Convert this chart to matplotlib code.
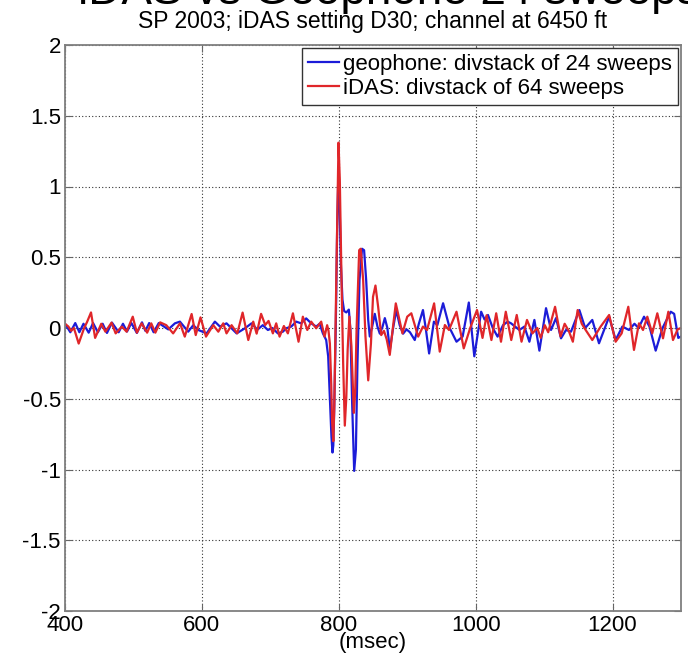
import matplotlib
matplotlib.use('Agg')
import matplotlib.pyplot as plt

plt.rcParams['font.family'] = ['Liberation Sans', 'DejaVu Sans']
plt.rcParams['axes.unicode_minus'] = False

# ---- data ----
geo_t = [400, 407.8, 415, 421, 427, 434.6, 441, 448, 455, 461.3, 468.6, 478.4, 484.7, 490.6, 497, 505,
         512.5, 517.4, 523, 529.5, 537, 550.9, 560.6, 567.9, 580, 587.4, 594.7, 606.9, 619, 626.4, 636,
         650.7, 662.9, 672.6, 681, 689, 696.4, 703, 711, 718.3, 723.2, 730.5, 737.8, 745, 752.4, 759.7,
         767, 772, 776.8, 781.6, 784.5, 787, 789.3, 790.8, 792, 793.2, 795.7, 797.6, 799.6, 801, 803,
         805.4, 807.8, 811, 814.7, 817, 819.5, 822.5, 825, 827.3, 830.3, 834, 837, 840, 843, 845.3,
         848.8, 852.6, 856.5, 860, 864, 867.3, 871, 874.6, 879.4, 884, 889, 894, 899, 904, 911, 917,
         923, 927, 932, 939, 944, 952.4, 962, 972, 981, 990, 998, 1008, 1013, 1018, 1025, 1032, 1040,
         1046.8, 1051.7, 1063.9, 1071.2, 1078.5, 1085.8, 1093.1, 1102.8, 1110.1, 1117.4, 1124.7, 1132,
         1139.3, 1151.5, 1160, 1170.4, 1180.2, 1195, 1204.5, 1214.3, 1224, 1232, 1238, 1246, 1254, 1263,
         1273, 1285, 1290, 1296, 1300]
geo_v = [0.03, -0.03, 0.035, -0.03, 0.03, -0.033, 0.035, -0.03, 0.03, -0.035, 0.038, -0.03, 0.03, -0.025,
         0.035, -0.035, 0.04, -0.02, 0.035, -0.03, 0.035, -0.01, 0.033, 0.045, -0.026, 0.02, -0.014, -0.038,
         0.045, 0.01, 0.033, -0.038, -0.002, 0.033, -0.012, 0.02, -0.014, 0.0, -0.038, -0.026, -0.002, 0.01,
         0.045, 0.033, 0.068, 0.033, 0.01, 0.03, -0.038, -0.085, -0.2, -0.49, -0.77, -0.88, -0.83, -0.6,
         0.03, 0.69, 1.14, 0.93, 0.46, 0.2, 0.12, 0.11, 0.13, -0.01, -0.53, -1.01, -0.86, -0.25, 0.34,
         0.56, 0.55, 0.34, 0.056, -0.06, 0.01, 0.1, 0.01, -0.04, 0.01, 0.07, 0.0, -0.155, 0.0, 0.127,
         0.02, -0.04, -0.01, -0.03, -0.085, 0.03, 0.127, 0.0, -0.18, 0.045, 0.02, 0.175, 0.0, -0.097,
         -0.06, 0.18, -0.2, 0.115, 0.06, 0.092, 0.0, -0.061, 0.02, 0.045, 0.033, -0.014, 0.01, -0.097,
         0.057, -0.16, 0.14, -0.014, 0.07, -0.073, -0.014, -0.026, 0.127, 0.0, 0.057, -0.108, 0.08,
         -0.085, 0.01, -0.014, 0.03, 0.0, 0.08, 0.01, -0.16, 0.0, 0.115, 0.1, -0.07, -0.06]

das_t = [400, 405, 409, 413, 420, 428, 432, 438, 444, 453, 459, 468, 474, 483, 490, 499, 505, 512, 520,
         526, 532, 539, 548, 558, 568, 575, 585, 591, 598, 606, 616.6, 624, 631.2, 636, 643.4, 651.7,
         659.5, 667.8, 675, 680, 686.5, 692.5, 697.4, 703.7, 708.6, 713.5, 719.8, 725.6, 733, 741.2,
         747.5, 754, 759.7, 767, 774.3, 779.2, 783, 785, 787, 789, 790.3, 792, 793.5, 795.2, 797.6,
         799.6, 801.5, 804, 806.4, 808.8, 811, 813, 815.5, 818.5, 822, 824, 826, 829.8, 832, 835.6, 839,
         843, 847, 850, 853.6, 857.5, 862, 866, 870, 874.5, 879, 883.3, 889, 893, 900, 906, 916, 923,
         929, 939.3, 947.5, 955, 961, 972, 982.6, 992, 1002, 1010, 1016, 1023, 1030, 1037, 1044, 1052,
         1060, 1067, 1075, 1083, 1090, 1095, 1101, 1106, 1116, 1124, 1130, 1136, 1142, 1149, 1155,
         1160.7, 1170.4, 1182.6, 1195, 1204.5, 1213.3, 1223, 1231.3, 1238.6, 1244.5, 1250.8, 1258,
         1265.4, 1273.7, 1281.5, 1288.3, 1295, 1300]
das_v = [0.03, 0.01, -0.02, 0.0, -0.11, 0.0, 0.04, 0.11, -0.07, 0.03, -0.026, 0.038, -0.038, 0.01, -0.026,
         0.08, -0.033, 0.033, -0.033, 0.033, -0.033, 0.04, 0.02, -0.038, 0.033, -0.061, 0.099, -0.05,
         0.075, -0.061, 0.02, -0.026, 0.033, -0.038, 0.02, -0.038, 0.109, -0.085, 0.045, -0.04, 0.1,
         0.021, 0.05, -0.038, 0.033, -0.061, 0.014, -0.038, 0.104, -0.097, 0.08, -0.014, 0.045, -0.002,
         0.045, -0.061, 0.02, -0.02, -0.11, -0.4, -0.67, -0.8, -0.55, -0.01, 0.69, 1.31, 1.05, 0.34,
         -0.25, -0.69, -0.49, -0.15, 0.08, -0.13, -0.6, -0.45, -0.01, 0.55, 0.56, 0.34, -0.06, -0.37,
         -0.11, 0.22, 0.30, 0.15, -0.05, -0.02, -0.08, -0.19, 0.0, 0.174, 0.05, -0.038, 0.08, 0.104,
         -0.061, 0.01, -0.014, 0.174, -0.167, 0.021, -0.014, 0.115, -0.144, 0.0, 0.127, -0.07, 0.09,
         -0.085, 0.104, -0.097, 0.115, -0.085, 0.092, -0.097, 0.057, -0.038, 0.0, -0.07, 0.02, -0.03,
         0.15, -0.06, 0.03, -0.02, -0.097, 0.127, 0.03, -0.014, -0.085, 0.01, 0.092, -0.097, -0.038,
         0.15, -0.155, 0.033, -0.014, 0.08, -0.038, 0.104, -0.073, 0.115, -0.085, -0.01, 0.0]

x_ticks = [400, 600, 800, 1000, 1200]
x_tick_labels = ['400', '600', '800', '1000', '1200']
y_ticks = [-2, -1.5, -1, -0.5, 0, 0.5, 1, 1.5, 2]
y_tick_labels = ['-2', '-1.5', '-1', '-0.5', '0', '0.5', '1', '1.5', '2']

geo_label = 'geophone: divstack of 24 sweeps'
das_label = 'iDAS: divstack of 64 sweeps'
title = 'SP 2003; iDAS setting D30; channel at 6450 ft'
top_title = 'iDAS vs Geophone 24 sweeps'

W, H = 688, 664
fig = plt.figure(figsize=(W / 100, H / 100), dpi=100)
ax = fig.add_axes([65 / W, 1 - 611 / H, (681 - 65) / W, (611 - 45) / H])

ax.plot(geo_t, geo_v, color='#1c1cd8', lw=1.6, label=geo_label,
        solid_joinstyle='round')
ax.plot(das_t, das_v, color='#e0262a', lw=1.6, label=das_label,
        solid_joinstyle='round')

ax.set_xlim(400, 1300)
ax.set_ylim(-2, 2)
ax.set_xticks(x_ticks)
ax.set_xticklabels(x_tick_labels)
ax.set_yticks(y_ticks)
ax.set_yticklabels(y_tick_labels)
ax.tick_params(direction='in', top=True, right=True, labelsize=16, length=5,
               color='#666666', pad=3)
ax.grid(True, linestyle=(0, (1, 2)), color='#333333', lw=0.8)
for s in ax.spines.values():
    s.set_color('#7f7f7f')
    s.set_linewidth(1.3)

ax.set_xlabel('(msec)', fontsize=16, labelpad=-3)
ax.set_title(title, fontsize=16.5, pad=12)

leg = ax.legend(loc='upper right', fontsize=16, frameon=True, fancybox=False,
                borderaxespad=0.15, handlelength=1.4, handletextpad=0.2,
                borderpad=0.25, labelspacing=0.15, framealpha=1)
leg.get_frame().set_edgecolor('#333333')
leg.get_frame().set_linewidth(1.0)

fig.text(700 / W, 1 - 4 / H, top_title, fontsize=33, ha='right', va='baseline')

fig.savefig('out.png', dpi=100)
